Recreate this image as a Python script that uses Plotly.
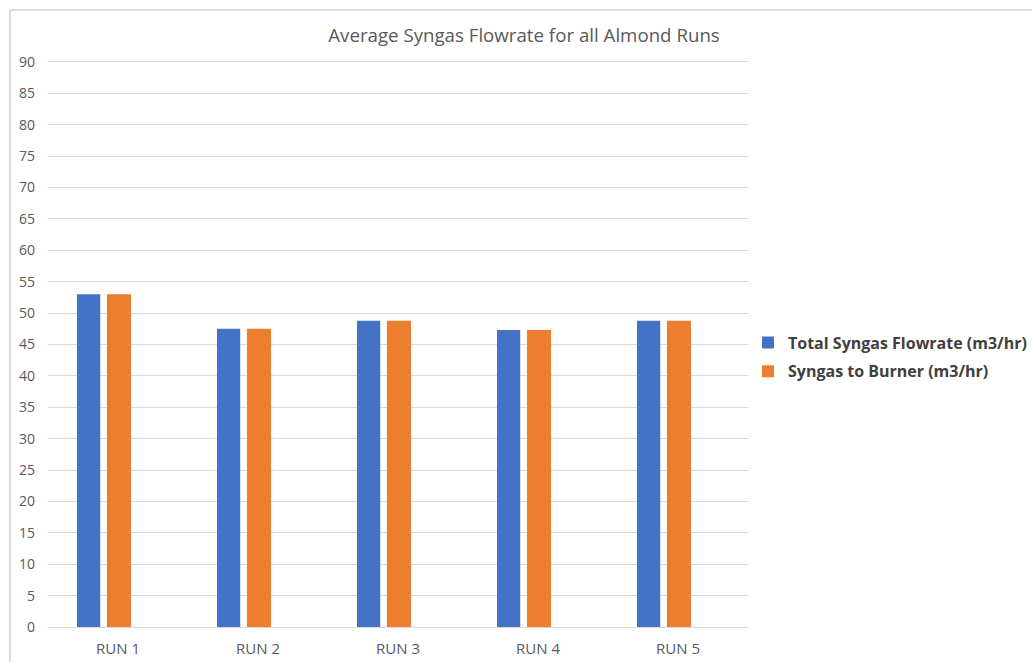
import plotly.graph_objects as go

# Average syngas flowrate per almond run (m3/hr)
runs = ["RUN 1", "RUN 2", "RUN 3", "RUN 4", "RUN 5"]
total_syngas = [53.0, 47.5, 48.8, 47.3, 48.8]
syngas_to_burner = [53.0, 47.5, 48.8, 47.3, 48.8]
y_ticks = list(range(0, 95, 5))

BLUE = "#4472C4"
ORANGE = "#ED7D31"
TEXT = "#595959"
GRID = "#D9D9D9"
FONT = "Open Sans, Lato, sans-serif"

fig = go.Figure()
fig.add_trace(go.Bar(
    x=runs, y=total_syngas, name="Total Syngas Flowrate (m3/hr)",
    marker=dict(color=BLUE, line=dict(width=0)),
    width=0.166, offset=-0.293, legendgroup="total",
))
fig.add_trace(go.Bar(
    x=runs, y=syngas_to_burner, name="Syngas to Burner (m3/hr)",
    marker=dict(color=ORANGE, line=dict(width=0)),
    width=0.172, offset=-0.079, legendgroup="burner",
))

fig.update_layout(
    width=1032, height=662,
    margin=dict(l=48, r=284, t=62, b=35, autoexpand=False),
    paper_bgcolor="white", plot_bgcolor="white",
    barmode="overlay",
    font=dict(family=FONT, color=TEXT),
    title=dict(
        text="Average Syngas Flowrate for all Almond Runs",
        x=524 / 1032, xanchor="center",
        y=1 - 35 / 662, yanchor="middle",
        font=dict(size=18.7, color=TEXT, family=FONT),
    ),
    showlegend=True,
    legend=dict(
        x=(748 - 48) / 700, xanchor="left",
        y=(627 - 357) / 565, yanchor="middle",
        font=dict(size=16, color="#404040", family=FONT, weight="bold"),
        itemwidth=30, tracegroupgap=5,
        bgcolor="rgba(0,0,0,0)",
    ),
    xaxis=dict(
        type="category", showgrid=False, ticks="",
        showline=True, mirror=True, linecolor=GRID, linewidth=1,
        tickfont=dict(size=15, color=TEXT),
        ticklabelstandoff=8,
    ),
    yaxis=dict(
        range=[0, 90], tickvals=y_ticks, showgrid=True, gridcolor=GRID,
        gridwidth=1, zeroline=True, zerolinecolor=GRID, zerolinewidth=1,
        showline=False, ticks="",
        tickfont=dict(size=14, color=TEXT),
        ticklabelstandoff=12,
    ),
    shapes=[
        # chart frame edges (top and left)
        dict(type="line", xref="paper", yref="paper",
             x0=(10 - 48) / 700, x1=(1040 - 48) / 700,
             y0=(627 - 10) / 565, y1=(627 - 10) / 565,
             line=dict(color="#D0D0D0", width=1.5)),
        dict(type="line", xref="paper", yref="paper",
             x0=(10 - 48) / 700, x1=(10 - 48) / 700,
             y0=(627 - 10) / 565, y1=(627 - 670) / 565,
             line=dict(color="#D0D0D0", width=1.5)),
    ],
)

fig.write_html("out.html")
